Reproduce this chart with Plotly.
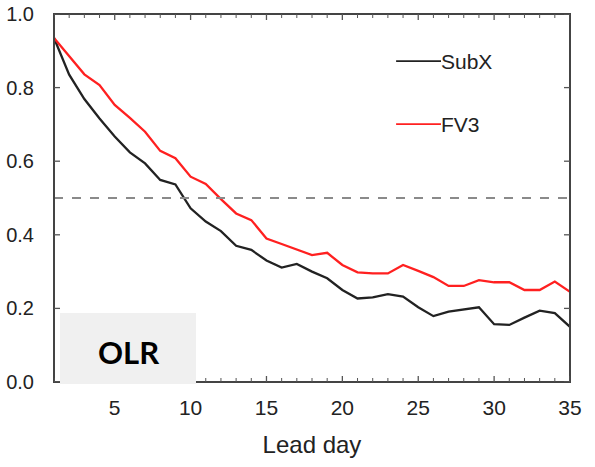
import plotly.graph_objects as go

lead_day = list(range(1, 36))
subx = [0.935, 0.835, 0.769, 0.716, 0.667, 0.624, 0.594, 0.549, 0.537, 0.472,
        0.436, 0.410, 0.370, 0.359, 0.330, 0.311, 0.321, 0.300, 0.282, 0.250,
        0.227, 0.230, 0.239, 0.232, 0.203, 0.179, 0.191, 0.198, 0.203, 0.157,
        0.155, 0.175, 0.194, 0.187, 0.150]
fv3 = [0.935, 0.885, 0.836, 0.807, 0.753, 0.718, 0.680, 0.628, 0.608, 0.558,
       0.538, 0.497, 0.458, 0.440, 0.390, 0.375, 0.361, 0.345, 0.351, 0.318,
       0.298, 0.295, 0.295, 0.318, 0.302, 0.285, 0.261, 0.261, 0.277, 0.271,
       0.271, 0.250, 0.250, 0.273, 0.245]
x_ticks = [5, 10, 15, 20, 25, 30, 35]
y_ticks = [0.0, 0.2, 0.4, 0.6, 0.8, 1.0]
y_ticklabels = ["0.0", "0.2", "0.4", "0.6", "0.8", "1.0"]
threshold = 0.5

FONT = "Liberation Sans, Arial, sans-serif"
PLOT_W, PLOT_H = 516, 368

fig = go.Figure()
fig.add_trace(go.Scatter(x=lead_day, y=subx, mode="lines", name="SubX",
                         line=dict(color="#222222", width=2.3)))
fig.add_trace(go.Scatter(x=lead_day, y=fv3, mode="lines", name="FV3",
                         line=dict(color="#ff2020", width=2.3)))

fig.add_hline(y=threshold, line=dict(color="#8a8a8a", width=2, dash="dash"))

# frame (axis box)
fig.add_shape(type="rect", xref="paper", yref="paper", x0=0, x1=1, y0=0, y1=1,
              line=dict(color="#444444", width=2), layer="above")

# x ticks (minor each day, major at labelled days), bottom and top, inward
for d in lead_day:
    ln = (6 if d in x_ticks else 4) / PLOT_H
    for y0, y1 in [(0, ln), (1, 1 - ln)]:
        fig.add_shape(type="line", xref="x", yref="paper", x0=d, x1=d, y0=y0, y1=y1,
                      line=dict(color="#555555", width=1.3 if d in x_ticks else 1),
                      layer="above")
# y ticks left and right, inward
for v in y_ticks:
    ln = 6 / PLOT_W
    for x0, x1 in [(0, ln), (1, 1 - ln)]:
        fig.add_shape(type="line", xref="paper", yref="y", x0=x0, x1=x1, y0=v, y1=v,
                      line=dict(color="#555555", width=1.3), layer="above")

# legend drawn as lines + labels
for ypos, col, name in [(0.872, "#222222", "SubX"), (0.701, "#ff2020", "FV3")]:
    fig.add_shape(type="line", xref="paper", yref="paper",
                  x0=0.663, x1=0.750, y0=ypos, y1=ypos,
                  line=dict(color=col, width=1.8))
    fig.add_annotation(xref="paper", yref="paper", x=0.750, y=ypos,
                       text=name, showarrow=False, xanchor="left", yanchor="middle",
                       xshift=-2,
                       font=dict(family=FONT, size=21, color="#222222"))

# OLR label box (covers part of the bottom axis)
fig.add_shape(type="rect", xref="paper", yref="paper",
              x0=(60 - 54) / PLOT_W, x1=(196 - 54) / PLOT_W,
              y0=(382 - 384) / PLOT_H, y1=(382 - 313) / PLOT_H,
              fillcolor="#f0f0f0", line=dict(width=0), layer="above")
fig.add_annotation(xref="paper", yref="paper", x=(128 - 54) / PLOT_W, y=(382 - 352) / PLOT_H,
                   text="<b>OLR</b>", showarrow=False, xanchor="center", yanchor="middle",
                   font=dict(family="Lato, Open Sans, sans-serif", size=31, color="black"))

fig.update_layout(
    width=595, height=467,
    margin=dict(l=54, r=25, t=14, b=85, autoexpand=False),
    paper_bgcolor="white", plot_bgcolor="white",
    showlegend=False,
    font=dict(family=FONT, color="#222222"),
    xaxis=dict(
        range=[1, 35], tickvals=x_ticks, ticks="", showline=False,
        showgrid=False, zeroline=False, automargin=False,
        tickfont=dict(family=FONT, size=21, color="#222222"), ticklabelstandoff=11,
        title=dict(text="Lead day", font=dict(family=FONT, size=24, color="#222222"),
                   standoff=18),
    ),
    yaxis=dict(
        range=[0, 1], tickvals=y_ticks, ticktext=y_ticklabels, ticks="",
        showline=False, showgrid=False, zeroline=False, automargin=False,
        tickfont=dict(family=FONT, size=20, color="#222222"), ticklabelstandoff=19,
    ),
)

fig.write_html("out.html")
